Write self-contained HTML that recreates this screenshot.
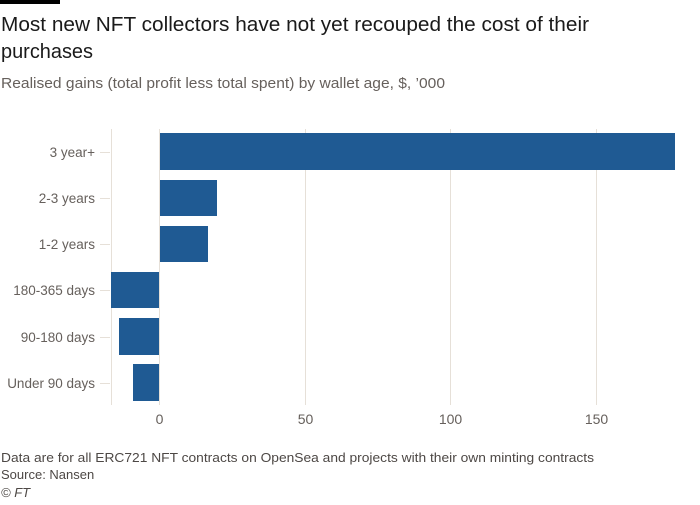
<!DOCTYPE html>
<html><head><meta charset="utf-8"><style>
body{margin:0;background:#fff;width:700px;height:500px;overflow:hidden;font-family:"Liberation Sans",sans-serif}
</style></head><body>
<svg width="700" height="500" xmlns="http://www.w3.org/2000/svg" font-family="Liberation Sans, sans-serif">
<rect x="0" y="0" width="60" height="4" fill="#000"/>
<text x="1" y="31" font-size="20" fill="#1a1a1a" textLength="588" lengthAdjust="spacingAndGlyphs">Most new NFT collectors have not yet recouped the cost of their</text>
<text x="1" y="58" font-size="20" fill="#1a1a1a" textLength="92" lengthAdjust="spacingAndGlyphs">purchases</text>
<text x="1" y="88" font-size="15" fill="#66605c" textLength="444" lengthAdjust="spacingAndGlyphs">Realised gains (total profit less total spent) by wallet age, $, ’000</text>
<g stroke="#e6e0d8" stroke-width="1">
<line x1="111.5" y1="129" x2="111.5" y2="405"/>
<line x1="159.5" y1="129" x2="159.5" y2="405"/>
<line x1="305.5" y1="129" x2="305.5" y2="405"/>
<line x1="450.5" y1="129" x2="450.5" y2="405"/>
<line x1="596.5" y1="129" x2="596.5" y2="405"/>
<line x1="100" y1="152.5" x2="110" y2="152.5"/>
<line x1="100" y1="198.5" x2="110" y2="198.5"/>
<line x1="100" y1="244.5" x2="110" y2="244.5"/>
<line x1="100" y1="290.5" x2="110" y2="290.5"/>
<line x1="100" y1="337.5" x2="110" y2="337.5"/>
<line x1="100" y1="383.5" x2="110" y2="383.5"/>
</g>
<g fill="#1f5a93">
<rect x="160" y="133" width="515" height="37"/>
<rect x="160" y="180" width="57" height="36"/>
<rect x="160" y="226" width="48" height="36"/>
<rect x="111" y="272" width="48" height="36"/>
<rect x="119" y="318" width="40" height="37"/>
<rect x="133" y="364" width="26" height="37"/>
</g>
<g font-size="13.5" fill="#66605c" text-anchor="end">
<text x="95" y="157">3 year+</text>
<text x="95" y="203">2-3 years</text>
<text x="95" y="249">1-2 years</text>
<text x="95" y="295">180-365 days</text>
<text x="95" y="342">90-180 days</text>
<text x="95" y="388">Under 90 days</text>
</g>
<g font-size="14" fill="#66605c" text-anchor="middle">
<text x="159.5" y="424">0</text>
<text x="305.5" y="424">50</text>
<text x="450.5" y="424">100</text>
<text x="596.5" y="424">150</text>
</g>
<text x="1" y="462" font-size="13" fill="#4d4845" textLength="593" lengthAdjust="spacingAndGlyphs">Data are for all ERC721 NFT contracts on OpenSea and projects with their own minting contracts</text>
<text x="1" y="479" font-size="13" fill="#4d4845">Source: Nansen</text>
<text x="1" y="497" font-size="13" font-style="italic" fill="#4d4845">© FT</text>
</svg>
</body></html>
